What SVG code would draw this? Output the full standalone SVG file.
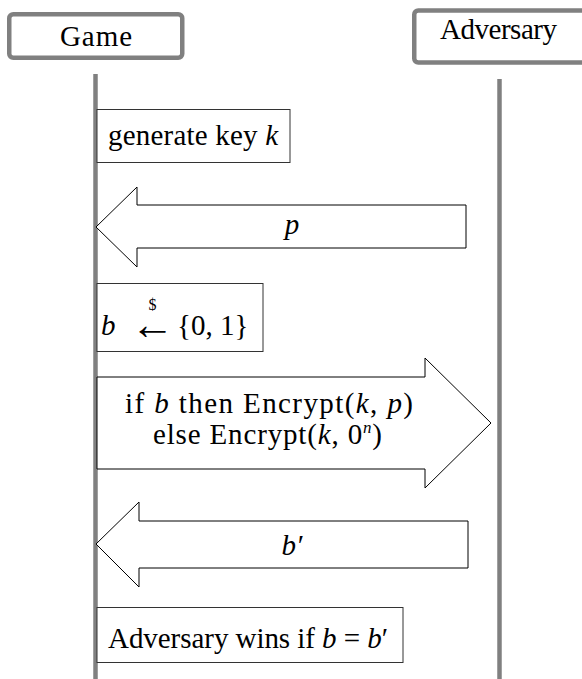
<svg xmlns="http://www.w3.org/2000/svg" width="582" height="679" viewBox="0 0 582 679">
<style>
  text { font-family: "Liberation Serif", "DejaVu Serif", serif; font-size: 29px; fill: #000; }
  .actor { fill: #fff; stroke: #808080; stroke-width: 4.5; }
  .life { stroke: #808080; stroke-width: 4.5; fill: none; }
  .box { fill: #fff; stroke: #333; stroke-width: 1; }
  .arrow { fill: #fff; stroke: #000; stroke-width: 1; stroke-linejoin: miter; }
  .i { font-style: italic; }
  .c { text-anchor: middle; }
  .sup { font-size: 17px; }
  .dollar { font-size: 16px; }
  .larr { font-size: 44px; }
</style>
<rect width="582" height="679" fill="#fff"/>
<g id="lifelines">
  <line class="life" x1="95.5" y1="74" x2="95.5" y2="679"/>
  <line class="life" x1="499.5" y1="79" x2="499.5" y2="679"/>
</g>
<g id="game">
  <rect class="actor" x="9.25" y="14.25" width="173" height="43.5" rx="4"/>
  <text class="c" x="96" y="46" textLength="72" lengthAdjust="spacing">Game</text>
</g>
<g id="adversary">
  <rect class="actor" x="414.25" y="10.5" width="180" height="52" rx="4"/>
  <text class="c" x="498.5" y="39" textLength="117" lengthAdjust="spacing">Adversary</text>
</g>
<g id="connectors">
  <g id="msg-p">
    <polygon class="arrow" points="96,227 137,187 137,205 466,205 466,248 137,248 137,267"/>
    <text class="c i" x="292" y="234">p</text>
  </g>
  <g id="msg-enc">
    <polygon class="arrow" points="97,377 425,377 425,358 491,423 425,488 425,469 97,469"/>
    <text class="c" x="269" y="413" textLength="288" lengthAdjust="spacing">if <tspan class="i">b</tspan> then Encrypt(<tspan class="i">k</tspan>, <tspan class="i">p</tspan>)</text>
    <text class="c" x="267.5" y="444" textLength="229" lengthAdjust="spacing">else Encrypt(<tspan class="i">k</tspan>, 0<tspan class="i sup" dy="-11">n</tspan><tspan dy="11">)</tspan></text>
  </g>
  <g id="msg-bprime">
    <polygon class="arrow" points="96,544 139,502 139,521 468,521 468,568 139,568 139,587"/>
    <text class="c i" x="292" y="555">b′</text>
  </g>
</g>
<g id="genkey">
  <rect class="box" x="97" y="109.5" width="193" height="53"/>
  <text class="c" x="193" y="145" textLength="170" lengthAdjust="spacing">generate key <tspan class="i">k</tspan></text>
</g>
<g id="choose-b">
  <rect class="box" x="97" y="283.5" width="166" height="68"/>
  <text class="i" x="101" y="335">b</text>
  <text class="c"><tspan class="dollar" x="152.5" y="310">$</tspan><tspan class="larr" x="152.5" y="339">←</tspan></text>
  <text x="177" y="335">{0, 1}</text>
</g>
<g id="wins">
  <rect class="box" x="97" y="607.5" width="306" height="55"/>
  <text class="c" x="248" y="648" textLength="280" lengthAdjust="spacing">Adversary wins if <tspan class="i">b</tspan> = <tspan class="i">b</tspan>′</text>
</g>
</svg>
